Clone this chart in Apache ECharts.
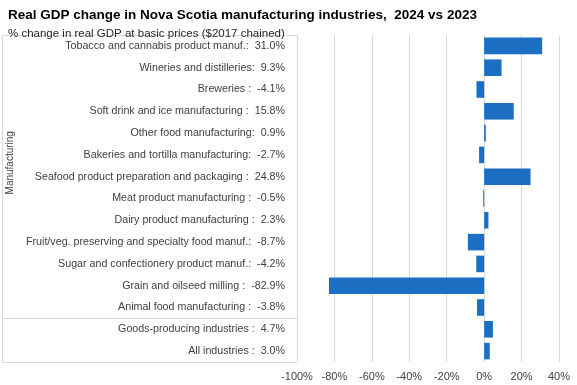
<!DOCTYPE html>
<html>
<head>
<meta charset="utf-8">
<script src="https://cdn.jsdelivr.net/npm/echarts@6/dist/echarts.min.js"></script>
<style>
html,body{margin:0;padding:0;background:#fff;}
#c{width:577px;height:385px;}
</style>
</head>
<body>
<div id="c"></div>
<script>
var categories = [
  "Tobacco and cannabis product manuf.",
  "Wineries and distilleries",
  "Breweries ",
  "Soft drink and ice manufacturing ",
  "Other food manufacturing",
  "Bakeries and tortilla manufacturing",
  "Seafood product preparation and packaging ",
  "Meat product manufacturing ",
  "Dairy product manufacturing ",
  "Fruit/veg. preserving and specialty food manuf.",
  "Sugar and confectionery product manuf.",
  "Grain and oilseed milling ",
  "Animal food manufacturing ",
  "Goods-producing industries ",
  "All industries "
];
var values = [31.0, 9.3, -4.1, 15.8, 0.9, -2.7, 24.8, -0.5, 2.3, -8.7, -4.2, -82.9, -3.8, 4.7, 3.0];
var groupName = "Manufacturing";
var groupSize = 13;
var xTicks = {min: -100, max: 40, interval: 20};

var FONT = '"Liberation Sans", Arial, sans-serif';
var labelMap = {};
categories.forEach(function(c, i){ labelMap[c] = c + ":  " + values[i].toFixed(1) + "%"; });

var chart = echarts.init(document.getElementById('c'), null, {renderer: 'canvas'});
var GT = 35, GB = 23, GL = 297, GR = 18;
chart.setOption({
  animation: false,
  backgroundColor: '#fff',
  textStyle: {fontFamily: FONT},
  title: [
    {text: 'Real GDP change in Nova Scotia manufacturing industries,  2024 vs 2023', left: 3, top: 3,
     textStyle: {fontFamily: FONT, fontWeight: 'bold', fontSize: 13.5, color: '#000'}},
    {text: '% change in real GDP at basic prices ($2017 chained)', left: 3, top: 23,
     textStyle: {fontFamily: FONT, fontWeight: 'normal', fontSize: 11.5, color: '#262626'}}
  ],
  grid: {left: GL, right: GR, top: GT, bottom: GB, containLabel: false},
  xAxis: {
    type: 'value', min: xTicks.min, max: xTicks.max, interval: xTicks.interval,
    axisLine: {show: false}, axisTick: {show: false},
    splitLine: {lineStyle: {color: '#d9d9d9', width: 1}},
    axisLabel: {formatter: function(v){ return v + '%'; }, color: '#404040', fontSize: 11, fontFamily: FONT, margin: 9}
  },
  yAxis: {
    type: 'category', data: categories, inverse: true,
    axisLine: {show: true, lineStyle: {color: '#d9d9d9'}},
    axisTick: {show: false},
    axisLabel: {formatter: function(v){ return labelMap[v]; }, color: '#404040', fontSize: 10.7, fontFamily: FONT, margin: 12}
  },
  series: [{
    type: 'bar', data: values, barCategoryGap: '24%',
    itemStyle: {color: '#1b6ec2'}
  }]
});

var plotTop = GT, plotBottom = 385 - GB;
var p12 = chart.convertToPixel({yAxisIndex: 0}, categories[groupSize - 1]);
var p13 = chart.convertToPixel({yAxisIndex: 0}, categories[groupSize]);
var sepY = Math.round((p12 + p13) / 2) + 0.5;
var groupMid = (plotTop + sepY) / 2;
var lc = '#d9d9d9';
chart.setOption({
  graphic: [
    {type: 'line', shape: {x1: 2.5, y1: plotTop + 0.5, x2: GL, y2: plotTop + 0.5}, style: {stroke: lc, lineWidth: 1}, silent: true},
    {type: 'line', shape: {x1: 2.5, y1: plotTop, x2: 2.5, y2: plotBottom + 0.5}, style: {stroke: lc, lineWidth: 1}, silent: true},
    {type: 'line', shape: {x1: 2.5, y1: sepY, x2: GL, y2: sepY}, style: {stroke: lc, lineWidth: 1}, silent: true},
    {type: 'line', shape: {x1: 2.5, y1: plotBottom + 0.5, x2: GL, y2: plotBottom + 0.5}, style: {stroke: lc, lineWidth: 1}, silent: true},
    {type: 'text', x: 10, y: groupMid - 14, rotation: Math.PI / 2,
     style: {text: groupName, fill: '#404040', font: '10px ' + FONT, textAlign: 'center', textVerticalAlign: 'middle'}, silent: true}
  ]
});
</script>
</body>
</html>
